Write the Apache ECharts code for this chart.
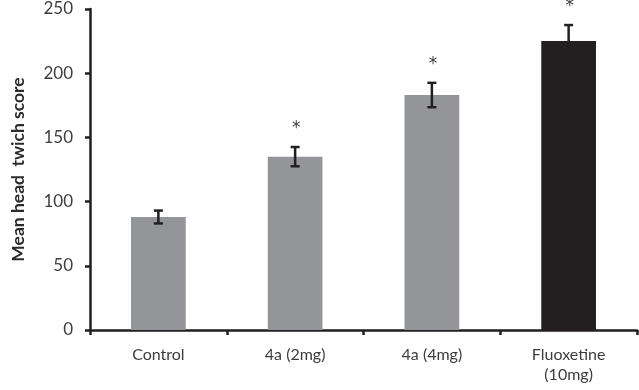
<!DOCTYPE html>
<html>
<head>
<meta charset="utf-8">
<script src="https://cdn.jsdelivr.net/npm/echarts@6/dist/echarts.min.js"></script>
<style>
  html, body { margin: 0; padding: 0; background: #fff; }
  #main { width: 639px; height: 390px; }
</style>
</head>
<body>
<div id="main"></div>
<script>
// data
const groups = ['Control', '4a (2mg)', '4a (4mg)', 'Fluoxetine\n(10mg)'];
const meanScore = [88, 135, 183, 225];
const errScore = [5, 7.5, 9.5, 12.5];
const sigMarks = ['', '*', '*', '*'];
const barColors = ['#939598', '#939598', '#939598', '#231f20'];
const yTicks = [0, 50, 100, 150, 200, 250];

const ink = '#231f20';
const font = 'Lato, "Open Sans", sans-serif';

const chart = echarts.init(document.getElementById('main'));

const option = {
  animation: false,
  grid: { left: 90, right: 2, top: 9, bottom: 60 },
  xAxis: {
    type: 'category',
    data: groups,
    axisLine: { lineStyle: { color: ink, width: 2.5 } },
    axisTick: { show: true, length: 5, interval: 0, lineStyle: { color: ink, width: 2.5 } },
    axisLabel: { color: '#3d3d3d', fontFamily: font, fontSize: 16, margin: 15, lineHeight: 20, interval: 0 },
    splitLine: { show: false }
  },
  yAxis: {
    type: 'value',
    min: yTicks[0],
    max: yTicks[yTicks.length - 1],
    interval: 50,
    name: 'Mean head  twich score',
    nameLocation: 'middle',
    nameGap: 63,
    nameTextStyle: { color: '#2b2b2b', fontFamily: font, fontSize: 17.5, fontWeight: 'bold' },
    axisLine: { show: true, lineStyle: { color: ink, width: 2.5 } },
    axisTick: { show: true, length: 5, lineStyle: { color: ink, width: 2.5 } },
    axisLabel: { color: '#3d3d3d', fontFamily: font, fontSize: 17, margin: 17 },
    splitLine: { show: false }
  },
  series: [
    {
      type: 'bar',
      barWidth: '40%',
      data: meanScore.map((v, i) => ({ value: v, itemStyle: { color: barColors[i] } })),
      z: 2
    },
    {
      type: 'custom',
      z: 3,
      data: meanScore.map((v, i) => [i, v, errScore[i]]),
      renderItem: function (params, api) {
        const i = api.value(0);
        const hi = api.coord([i, api.value(1) + api.value(2)]);
        const lo = api.coord([i, api.value(1) - api.value(2)]);
        const cap = 4.5;
        const st = { stroke: ink, lineWidth: 2.5 };
        const kids = [
          { type: 'line', shape: { x1: hi[0], y1: hi[1], x2: lo[0], y2: lo[1] }, style: st },
          { type: 'line', shape: { x1: hi[0] - cap, y1: hi[1], x2: hi[0] + cap, y2: hi[1] }, style: st },
          { type: 'line', shape: { x1: lo[0] - cap, y1: lo[1], x2: lo[0] + cap, y2: lo[1] }, style: st }
        ];
        if (sigMarks[i]) {
          kids.push({
            type: 'text',
            style: {
              text: sigMarks[i], x: hi[0] + 1, y: hi[1] - 18,
              fill: '#3d3d3d', font: '17px "DejaVu Sans", sans-serif', align: 'center', verticalAlign: 'middle'
            }
          });
        }
        return { type: 'group', children: kids };
      }
    }
  ]
};

chart.setOption(option);
</script>
</body>
</html>
